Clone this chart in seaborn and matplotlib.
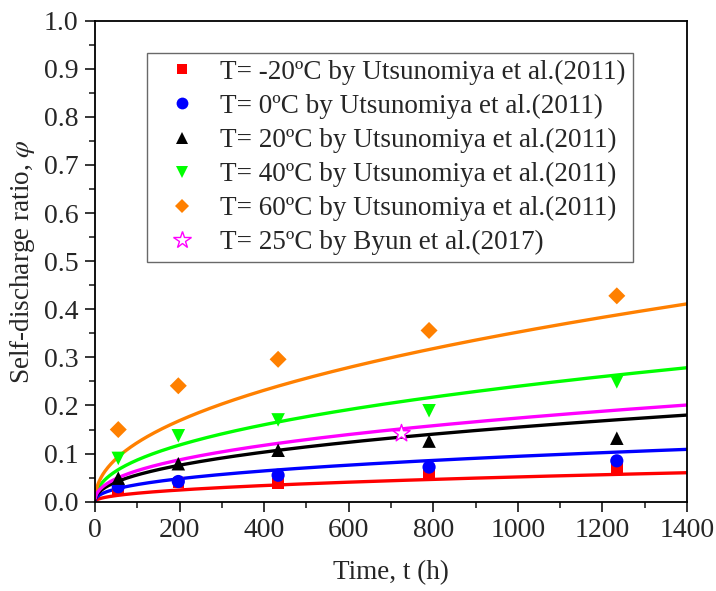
import numpy as np
import pandas as pd
import matplotlib
matplotlib.use("Agg")
import matplotlib.pyplot as plt
import seaborn as sns
from matplotlib.ticker import MultipleLocator

# ---- data ----
time_h = [55, 197, 433, 790, 1234]
phi_m20 = [0.025, 0.040, 0.038, 0.059, 0.069]
phi_0 = [0.031, 0.042, 0.055, 0.072, 0.085]
phi_20 = [0.049, 0.079, 0.107, 0.126, 0.132]
phi_40 = [0.090, 0.137, 0.170, 0.189, 0.249]
phi_60 = [0.150, 0.241, 0.296, 0.356, 0.428]
byun_t = [723]
byun_phi = [0.143]

labels = [
    "T= -20\u00baC by Utsunomiya et al.(2011)",
    "T= 0\u00baC by Utsunomiya et al.(2011)",
    "T= 20\u00baC by Utsunomiya et al.(2011)",
    "T= 40\u00baC by Utsunomiya et al.(2011)",
    "T= 60\u00baC by Utsunomiya et al.(2011)",
    "T= 25\u00baC by Byun et al.(2017)",
]
colors = ["#FF0000", "#0000FF", "#000000", "#00FF00", "#FF8000", "#FF00FF"]
markers = ["s", "o", "^", "v", "D", "*"]

# fitted power-law curves phi = a * t^b (coefficients)
fit_a = [0.00206, 0.00508, 0.00719, 0.01133, 0.0149, 0.00892]
fit_b = [0.466, 0.423, 0.4446, 0.442, 0.458, 0.43]

sns.set_theme(style="ticks")
plt.rcParams["font.family"] = ["Liberation Serif", "DejaVu Serif"]
plt.rcParams["mathtext.fontset"] = "stix"

fig = plt.figure(figsize=(7.16, 5.91), dpi=100)
ax = fig.add_axes([0.1327, 0.1511, 0.8268, 0.8139])

t_curve = np.linspace(0.5, 1400, 600)
for a, b, c in zip(fit_a, fit_b, colors):
    df = pd.DataFrame({"t": t_curve, "phi": a * t_curve ** b})
    sns.lineplot(data=df, x="t", y="phi", color=c, lw=2.4, ax=ax, zorder=2)

series = [
    (time_h, phi_m20), (time_h, phi_0), (time_h, phi_20),
    (time_h, phi_40), (time_h, phi_60), (byun_t, byun_phi),
]
sizes = [70, 90, 95, 95, 75, 170]
handles = []
for (tx, py), c, m, s, lab in zip(series, colors, markers, sizes, labels):
    df = pd.DataFrame({"t": tx, "phi": py})
    if m == "*":
        sns.scatterplot(data=df, x="t", y="phi", marker=m, s=s, facecolor="white",
                        edgecolor=c, linewidth=1.0, ax=ax, zorder=4, legend=False)
        h = plt.Line2D([], [], ls="none", marker=m, markersize=13, markerfacecolor="white",
                       markeredgecolor=c, markeredgewidth=1.0)
    else:
        sns.scatterplot(data=df, x="t", y="phi", marker=m, s=s, color=c,
                        edgecolor="none", linewidth=0, ax=ax, zorder=3, legend=False)
        ms = {"s": 7.5, "o": 8.5, "^": 9, "v": 9, "D": 7.5}[m]
        h = plt.Line2D([], [], ls="none", marker=m, markersize=ms, color=c, markeredgewidth=0)
    handles.append(h)

ax.set_xlim(0, 1400)
ax.set_ylim(0, 1.0)
ax.xaxis.set_major_locator(MultipleLocator(200))
ax.xaxis.set_minor_locator(MultipleLocator(100))
ax.yaxis.set_major_locator(MultipleLocator(0.1))
ax.yaxis.set_minor_locator(MultipleLocator(0.05))
ax.yaxis.set_major_formatter(matplotlib.ticker.FormatStrFormatter("%.1f"))
ax.tick_params(which="major", direction="out", length=7, width=1.3, labelsize=20, pad=5)
ax.tick_params(which="minor", direction="out", length=4, width=1.2)
for sp in ax.spines.values():
    sp.set_visible(True)
    sp.set_linewidth(1.3)
    sp.set_color("black")

ax.set_xlabel("Time, t (h)", fontsize=19.5, labelpad=12)
ax.set_ylabel(r"Self-discharge ratio, $\varphi$", fontsize=19.5, labelpad=5)

leg = ax.legend(handles, labels, loc="upper left", bbox_to_anchor=(0.088, 0.933),
                borderaxespad=0, fontsize=19.5, frameon=True, fancybox=False,
                edgecolor="#444444", handletextpad=0.36, labelspacing=0.33,
                borderpad=0.25, handlelength=2.09)
leg.get_frame().set_linewidth(1.0)

fig.savefig("out.png", dpi=100)
